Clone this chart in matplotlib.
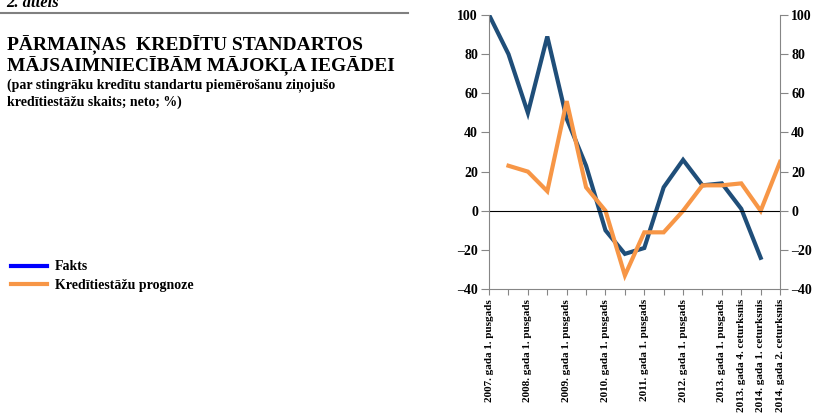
import numpy as np
from matplotlib import pyplot as plt
from matplotlib.lines import Line2D

plt.rcParams['font.family'] = ['Liberation Serif', 'DejaVu Serif']
plt.rcParams['font.weight'] = 'bold'

# periods: half-years 2007-2013, then quarters
periods = ['2007. gada 1. pusgads', '2007. gada 2. pusgads',
           '2008. gada 1. pusgads', '2008. gada 2. pusgads',
           '2009. gada 1. pusgads', '2009. gada 2. pusgads',
           '2010. gada 1. pusgads', '2010. gada 2. pusgads',
           '2011. gada 1. pusgads', '2011. gada 2. pusgads',
           '2012. gada 1. pusgads', '2012. gada 2. pusgads',
           '2013. gada 1. pusgads', '2013. gada 4. ceturksnis',
           '2014. gada 1. ceturksnis', '2014. gada 2. ceturksnis']
shown_labels = [0, 2, 4, 6, 8, 10, 12, 13, 14, 15]

fakts = [100, 80, 50, 89, 47, 23, -10, -22, -19, 12, 26, 13, 14, 1, -24, np.nan]
prognoze = [np.nan, 23, 20, 10, 56, 12, 0, -33, -11, -11, 0, 13, 13, 14, 0, 25]

title_lines = ['PĀRMAIŅAS  KREDĪTU STANDARTOS', 'MĀJSAIMNIECĪBĀM MĀJOKĻA IEGĀDEI']
subtitle_lines = ['(par stingrāku kredītu standartu piemērošanu ziņojušo',
                  'kredītiestāžu skaits; neto; %)']

c_fakts = '#1f4e79'
c_prog = '#f79646'

fig = plt.figure(figsize=(8.22, 4.16), dpi=100)
ax = fig.add_axes([0.595, 0.305, 0.354, 0.659])

x = np.arange(len(periods))
ax.plot(x, fakts, color=c_fakts, lw=3, solid_joinstyle='miter')
ax.plot(x, prognoze, color=c_prog, lw=3, solid_joinstyle='miter')
ax.axhline(0, color='black', lw=0.8)

ax.set_xlim(0, len(periods) - 1)
ax.set_ylim(-40, 100)
ax.set_yticks(np.arange(-40, 101, 20))
ax.set_yticklabels([str(v).replace('-', '\u2013') for v in range(-40, 101, 20)])
ax.set_xticks(x)
ax.set_xticklabels([periods[i] if i in shown_labels else '' for i in x],
                   rotation=90, fontsize=8)
ax.tick_params(axis='y', labelsize=10, right=True, labelright=True,
               length=6, color='#868686', direction='out', pad=2)
ax.tick_params(axis='x', length=4, color='#868686', direction='out', pad=3)
for s in ['left', 'right', 'bottom']:
    ax.spines[s].set_color('#868686')
ax.spines['top'].set_visible(False)

# header text (y in pixels from top)
H = 416.0
fig.text(0.008, 1 - 7 / H, '2. attēls', fontsize=12, style='italic', va='baseline')
fig.add_artist(Line2D([0, 408 / 822], [1 - 13 / H, 1 - 13 / H], color='#808080',
                      lw=1.5, transform=fig.transFigure))
for i, t in enumerate(title_lines):
    fig.text(0.008, 1 - (50 + 21 * i) / H, t, fontsize=14, va='baseline')
for i, t in enumerate(subtitle_lines):
    fig.text(0.008, 1 - (89 + 17 * i) / H, t, fontsize=10, va='baseline')

handles = [Line2D([], [], color='#0000ff', lw=3),
           Line2D([], [], color=c_prog, lw=3)]
fig.legend(handles, ['Fakts', 'Kredītiestāžu prognoze'], loc='lower left',
           bbox_to_anchor=(-0.002, 0.268), frameon=False, fontsize=10,
           handlelength=2.6, handletextpad=0.55, labelspacing=0.4)

fig.savefig('out.png', dpi=100)
